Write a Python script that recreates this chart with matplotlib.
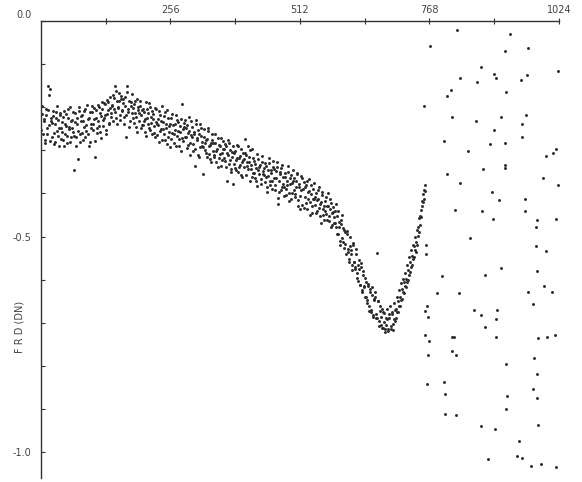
#!/usr/bin/env python3
# -*- coding: utf-8 -*-
"""
frd_scatter.py - FRD (DN) vs channel, scanned-style scatter
"""

import numpy as np
import matplotlib
matplotlib.use("Agg")
import matplotlib.pyplot as plt
from matplotlib.ticker import FixedLocator
from matplotlib.transforms import ScaledTranslation

# ---- data ---------------------------------------------------------------
# dense band, FRD in milli-DN, even channels 2..760
band_ch_even = np.arange(2, 762, 2)
band_frd_even = [
    -215, -262, -228, -275, -205, -248, -150, -172, -158, -232,
    -268, -221, -285, -240, -212, -256, -230, -290, -218, -248,
    -235, -275, -208, -262, -244, -283, -226, -251, -200, -270,
    -229, -258, -346, -214, -270, -240, -320, -199, -262, -233,
    -218, -276, -245, -205, -255, -228, -289, -212, -247, -196,
    -238, -202, -315, -224, -260, -195, -243, -213, -272, -188,
    -229, -190, -218, -252, -184, -207, -236, -176, -214, -197,
    -172, -204, -151, -226, -185, -199, -168, -217, -182, -208,
    -190, -222, -176, -270, -151, -211, -185, -232, -198, -170,
    -226, -193, -214, -245, -180, -207, -233, -196, -219, -241,
    -203, -232, -257, -188, -226, -214, -248, -199, -236, -262,
    -215, -244, -270, -205, -238, -227, -281, -219, -250, -196,
    -234, -263, -210, -248, -285, -226, -257, -239, -273, -215,
    -262, -240, -291, -229, -255, -273, -244, -301, -193, -251,
    -236, -270, -248, -295, -259, -222, -283, -265, -246, -302,
    -257, -337, -240, -276, -311, -263, -292, -249, -280, -356,
    -268, -299, -277, -315, -256, -290, -321, -282, -262, -301,
    -310, -283, -327, -296, -272, -318, -291, -336, -305, -279,
    -298, -325, -290, -372, -311, -282, -322, -350, -303, -379,
    -331, -302, -345, -318, -290, -339, -312, -357, -326, -305,
    -320, -274, -311, -336, -290, -327, -300, -344, -361, -318,
    -352, -331, -370, -309, -345, -338, -377, -326, -356, -341,
    -330, -362, -384, -345, -318, -371, -352, -390, -338, -365,
    -380, -349, -327, -425, -396, -355, -340, -384, -362, -405,
    -352, -389, -371, -337, -398, -364, -412, -376, -345, -392,
    -401, -372, -356, -415, -384, -437, -360, -426, -389, -373,
    -408, -381, -436, -397, -366, -420, -402, -445, -389, -413,
    -426, -398, -441, -412, -385, -452, -419, -404, -437, -461,
    -418, -447, -430, -400, -463, -436, -421, -472, -442, -455,
    -441, -478, -452, -493, -466, -510, -470, -449, -512, -484,
    -518, -486, -535, -552, -500, -541, -566, -514, -558, -575,
    -540, -585, -602, -555, -612, -570, -625, -580, -618, -640,
    -605, -648, -615, -662, -622, -670, -635, -682, -645, -628,
    -690, -537, -650, -696, -660, -705, -668, -712, -678, -722,
    -706, -668, -715, -680, -660, -714, -674, -702, -655, -696,
    -690, -640, -676, -625, -662, -608, -645, -598, -632, -584,
    -618, -565, -600, -548, -582, -532, -566, -520, -548, -500,
    -535, -484, -498, -458, -472, -438, -430, -402, -412, -381,
]

# odd channels 1..759
band_ch_odd = np.arange(1, 761, 2)
band_frd_odd = [
    -252, -198, -231, -284, -219, -263, -207, -241, -279, -224,
    -236, -209, -259, -281, -226, -197, -266, -248, -213, -274,
    -257, -222, -290, -238, -215, -267, -203, -246, -280, -231,
    -247, -211, -266, -235, -290, -224, -255, -208, -280, -221,
    -259, -232, -209, -270, -241, -194, -263, -226, -281, -239,
    -211, -253, -228, -279, -206, -247, -232, -199, -258, -221,
    -205, -244, -226, -193, -261, -215, -187, -240, -202, -222,
    -195, -231, -178, -212, -163, -239, -201, -186, -229, -174,
    -207, -181, -238, -196, -219, -165, -203, -245, -188, -214,
    -201, -237, -185, -222, -257, -199, -213, -185, -248, -206,
    -241, -211, -228, -266, -205, -239, -190, -253, -222, -209,
    -228, -259, -201, -234, -265, -242, -209, -255, -231, -277,
    -251, -220, -277, -238, -206, -268, -244, -292, -226, -259,
    -241, -282, -253, -218, -266, -235, -289, -258, -227, -272,
    -279, -245, -229, -268, -241, -288, -255, -310, -232, -269,
    -285, -262, -296, -230, -271, -252, -315, -239, -266, -290,
    -292, -251, -284, -306, -273, -247, -309, -288, -326, -275,
    -283, -315, -262, -301, -338, -287, -309, -271, -322, -297,
    -317, -286, -339, -306, -275, -331, -299, -344, -315, -291,
    -307, -342, -323, -288, -351, -317, -334, -296, -361, -322,
    -338, -305, -357, -326, -344, -315, -371, -333, -297, -352,
    -324, -363, -341, -382, -319, -355, -333, -366, -312, -347,
    -357, -373, -336, -397, -359, -329, -381, -346, -370, -325,
    -344, -391, -365, -338, -410, -372, -350, -393, -334, -378,
    -386, -361, -404, -381, -350, -418, -379, -357, -400, -370,
    -363, -409, -386, -352, -428, -378, -405, -391, -365, -433,
    -386, -423, -371, -412, -394, -451, -380, -428, -414, -375,
    -408, -445, -416, -392, -433, -424, -469, -396, -449, -428,
    -440, -409, -462, -428, -453, -414, -477, -445, -431, -468,
    -468, -425, -495, -440, -478, -520, -462, -503, -479, -527,
    -490, -540, -495, -528, -560, -522, -530, -578, -520, -560,
    -570, -528, -595, -565, -575, -612, -562, -628, -590, -615,
    -595, -640, -655, -610, -672, -628, -675, -618, -686, -648,
    -640, -680, -688, -650, -708, -672, -686, -712, -676, -698,
    -715, -690, -692, -720, -688, -708, -680, -716, -692, -670,
    -668, -675, -650, -660, -640, -648, -622, -628, -605, -615,
    -598, -605, -578, -588, -560, -570, -545, -552, -522, -530,
    -512, -520, -478, -490, -452, -455, -418, -420, -392, -395,
]

# sparse points beyond the band (channel, FRD)
sparse_ch = [
    823, 927, 769, 917, 962, 870, 896, 899, 829, 862, 949, 960, 1022, 811,
    803, 920, 757, 813, 860, 910, 958, 951, 896, 951, 797, 888, 917, 844,
    1018, 1012, 998, 918, 918, 874, 802, 992, 829, 1022, 892, 906, 956, 818,
    872, 956, 894, 980, 1019, 978, 848, 978, 998, 761, 762, 792, 878, 909,
    980, 782, 827, 962, 994, 1010, 972, 763, 759, 766, 857, 869, 901, 899,
    877, 759, 767, 813, 817, 900, 982, 1000, 1016, 765, 813, 820, 974, 920,
    980, 763, 797, 798, 922, 973, 980, 919, 798, 820, 869, 897, 983, 945,
    884, 941, 950, 968, 988, 1018,
]
sparse_frd = [
    -0.022, -0.029, -0.057, -0.070, -0.063, -0.106, -0.122, -0.132, -0.133,
    -0.141, -0.137, -0.126, -0.117, -0.160, -0.174, -0.165, -0.198, -0.223,
    -0.232, -0.222, -0.219, -0.238, -0.253, -0.269, -0.279, -0.285, -0.283,
    -0.302, -0.296, -0.306, -0.312, -0.333, -0.340, -0.343, -0.355, -0.365,
    -0.376, -0.381, -0.397, -0.415, -0.412, -0.439, -0.441, -0.440, -0.459,
    -0.462, -0.459, -0.477, -0.504, -0.521, -0.533, -0.520, -0.540, -0.591,
    -0.588, -0.573, -0.581, -0.631, -0.631, -0.628, -0.614, -0.628, -0.657,
    -0.660, -0.673, -0.687, -0.670, -0.681, -0.671, -0.692, -0.709, -0.729,
    -0.743, -0.733, -0.733, -0.733, -0.735, -0.733, -0.729, -0.774, -0.765,
    -0.774, -0.781, -0.795, -0.819, -0.843, -0.838, -0.864, -0.869, -0.853,
    -0.874, -0.900, -0.912, -0.914, -0.939, -0.947, -0.938, -0.974, -1.015,
    -1.009, -1.013, -1.033, -1.028, -1.035,
]

x_major = [256, 512, 768, 1024]
x_minor = [128, 384, 640, 896]
y_major = [0.0, -0.5, -1.0]
y_major_labels = ["0.0", "-0.5", "-1.0"]
y_minor = [-0.1, -0.2, -0.3, -0.4, -0.6, -0.7, -0.8, -0.9]

INK = "#2b2b2b"


def main():
    fig = plt.figure(figsize=(5.82, 4.82), dpi=100)
    ax = fig.add_axes([0.0704, 0.0083, 0.8900, 0.9481])

    # band values are stored in milli-DN
    ax.scatter(band_ch_even, np.array(band_frd_even) / 1000.0,
               s=4.5, c=INK, linewidths=0)
    ax.scatter(band_ch_odd, np.array(band_frd_odd) / 1000.0,
               s=4.5, c=INK, linewidths=0)
    ax.scatter(sparse_ch, sparse_frd, s=4.5, c=INK, linewidths=0)

    ax.set_xlim(0, 1024)
    ax.set_ylim(-1.060, 0.0)

    ax.spines["right"].set_visible(False)
    ax.spines["bottom"].set_visible(False)
    for sp in ("top", "left"):
        ax.spines[sp].set_color("#333333")
        ax.spines[sp].set_linewidth(1.0)

    ax.xaxis.tick_top()
    ax.xaxis.set_major_locator(FixedLocator(x_major))
    ax.xaxis.set_minor_locator(FixedLocator(x_minor))
    ax.set_xticklabels([str(v) for v in x_major])
    ax.tick_params(axis="x", which="both", direction="inout", length=4,
                   width=0.8, color="#333333", labelsize=7,
                   labelcolor="#444444", pad=2)

    ax.yaxis.set_major_locator(FixedLocator(y_major))
    ax.yaxis.set_minor_locator(FixedLocator(y_minor))
    ax.set_yticklabels(y_major_labels)
    ax.tick_params(axis="y", which="both", direction="in", length=3,
                   width=0.8, color="#333333", labelsize=7,
                   labelcolor="#444444", pad=7)

    # the "0.0" label sits a little above the top spine in the original
    top_lab = ax.get_yticklabels()[0]
    top_lab.set_transform(top_lab.get_transform()
                          + ScaledTranslation(0, 5 / 72, fig.dpi_scale_trans))

    ax.set_ylabel("F R D (DN)", fontsize=7, color="#444444")
    ax.yaxis.set_label_coords(-0.031, 0.33)

    fig.savefig("out.png", dpi=100, facecolor="white")


if __name__ == "__main__":
    main()
